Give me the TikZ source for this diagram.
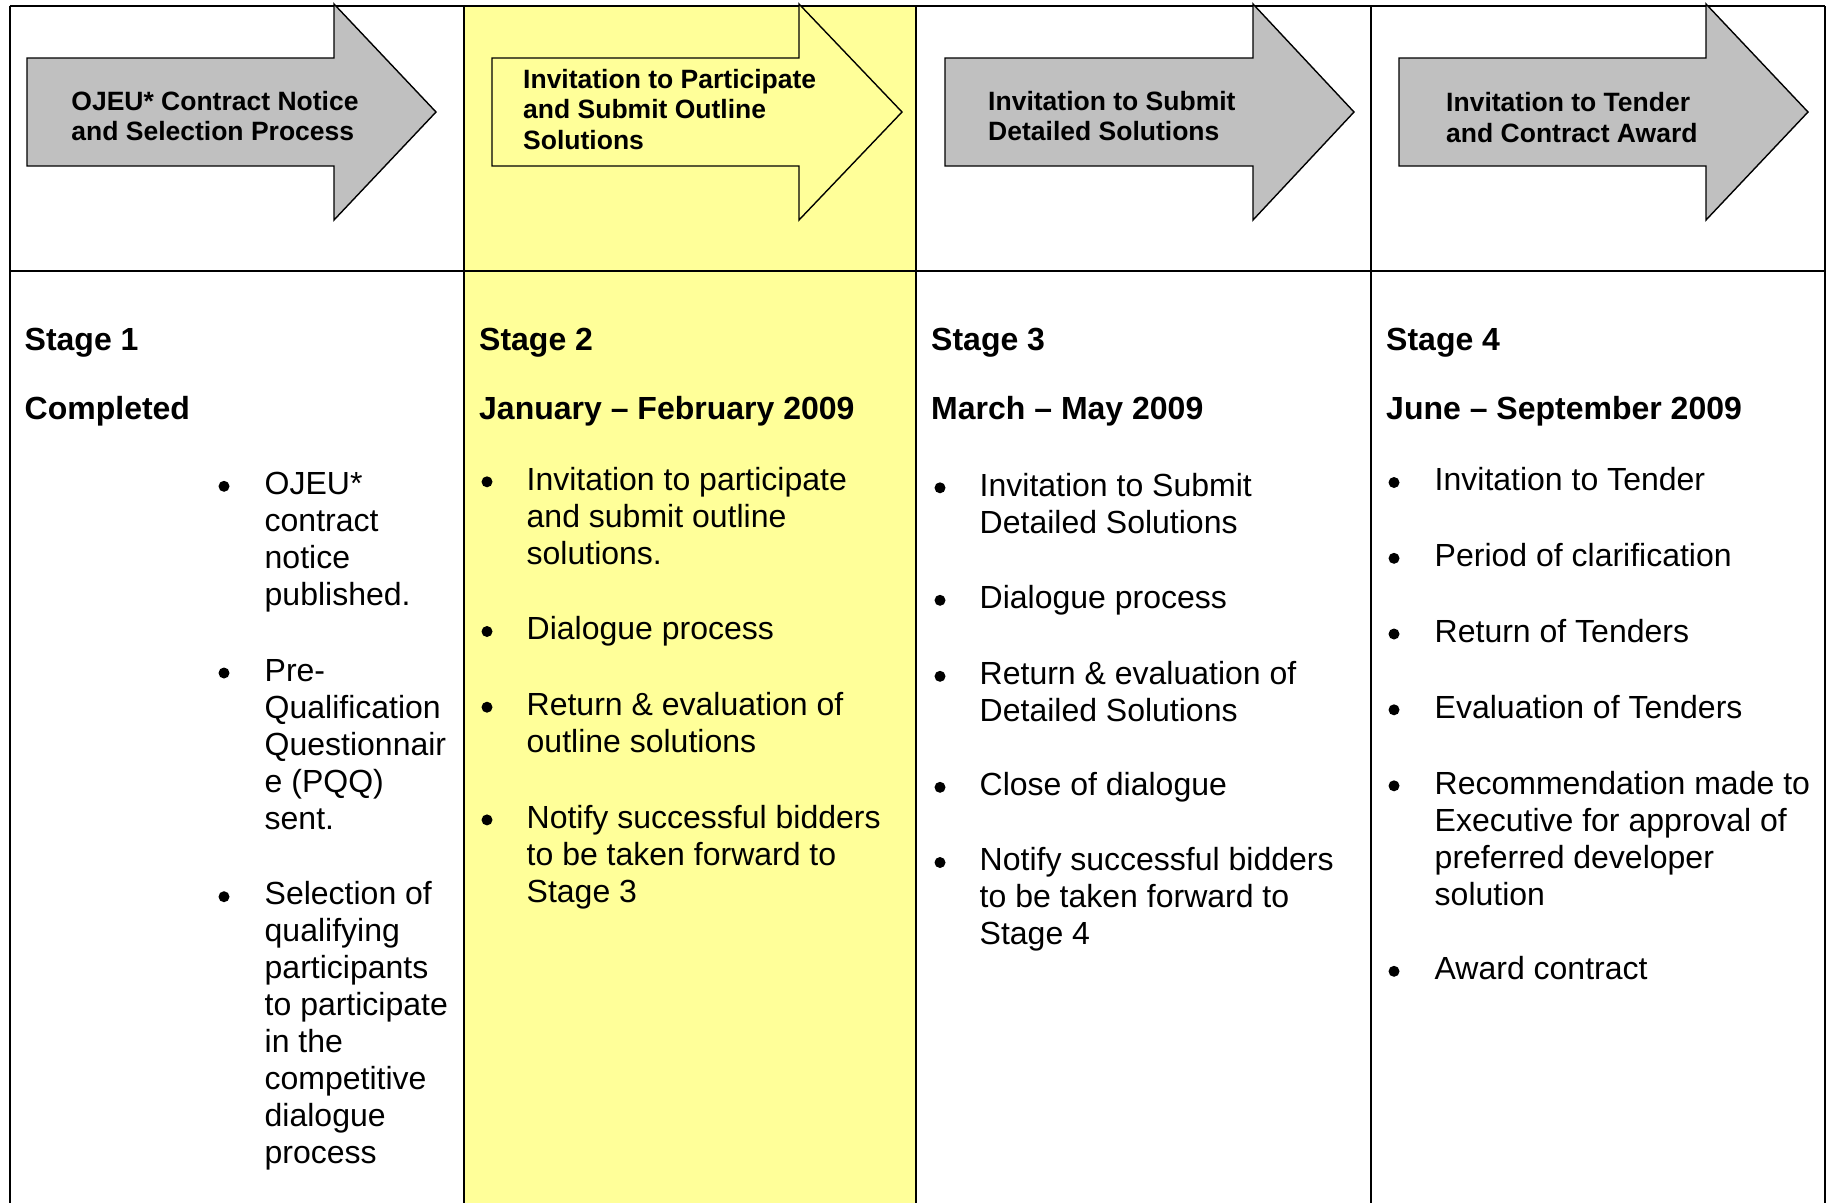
\documentclass[tikz,border=0pt]{standalone}
\usepackage{fontspec}
\setmainfont{Liberation Sans}
\definecolor{arrowgrey}{RGB}{192,192,192}
\definecolor{stageyellow}{RGB}{255,255,153}
\tikzset{
  gridline/.style={line width=2pt, draw=black},
  arrowshape/.style={draw=black, line width=1.4pt, line join=miter},
  arrowtxt/.style={inner sep=0pt, anchor=base west, font=\fontsize{26.5}{30.5}\selectfont\bfseries},
  headtxt/.style={inner sep=0pt, anchor=base west, font=\fontsize{32}{37}\selectfont\bfseries},
  bodytxt/.style={inner sep=0pt, anchor=base west, font=\fontsize{32}{37}\selectfont},
  bulletdot/.style={circle, fill=black, inner sep=0pt, minimum size=11pt},
}
\newcommand\stagearrow[4]{%
  \draw[arrowshape,fill=#4] (#1,58) -- (#2,58) -- (#2,4) -- (#3,112) -- (#2,220) -- (#2,166) -- (#1,166) -- cycle;}
\newcommand\bl[4]{\node[bodytxt] (#1) at (#2+2.5,#3) {#4};}
\newcommand\bdot[3]{\node[bulletdot] (#1) at (#2+1,#3-8.2) {};}
\begin{document}
\begin{tikzpicture}[x=1pt,y=-1pt]
\useasboundingbox (0,0) rectangle (1833,1203);
% yellow column
\fill[stageyellow] (464,6) rectangle (916,1203);
% grid
\draw[gridline] (9.5,6) -- (1825,6);
\draw[gridline] (9.5,271) -- (1825,271);
\foreach \xx in {9.5,464,916,1371,1825} {\draw[gridline] (\xx,6) -- (\xx,1203);}
% arrows
\stagearrow{27}{334}{436}{arrowgrey}
\stagearrow{492}{799}{902}{stageyellow}
\stagearrow{945}{1253}{1354}{arrowgrey}
\stagearrow{1399}{1706}{1808}{arrowgrey}
% arrow texts
\node[arrowtxt] (a1l1) at (71.2,110) {OJEU* Contract Notice};
\node[arrowtxt] (a1l2) at (71.2,140.5) {and Selection Process};
\node[arrowtxt] (a2l1) at (523,88.3) {Invitation to Participate};
\node[arrowtxt] (a2l2) at (523,118.6) {and Submit Outline};
\node[arrowtxt] (a2l3) at (523,149) {Solutions};
\node[arrowtxt] (a3l1) at (988,110) {Invitation to Submit};
\node[arrowtxt] (a3l2) at (988,140.5) {Detailed Solutions};
\node[arrowtxt] (a4l1) at (1446,111.7) {Invitation to Tender};
\node[arrowtxt] (a4l2) at (1446,142.5) {and Contract Award};
% headings
\node[headtxt] (h1a) at (24.5,350.7) {Stage 1};
\node[headtxt] (h1b) at (24.5,419) {Completed};
\node[headtxt] (h2a) at (479,350.7) {Stage 2};
\node[headtxt] (h2b) at (479,419) {January \textendash{} February 2009};
\node[headtxt] (h3a) at (931,350.7) {Stage 3};
\node[headtxt] (h3b) at (931,419) {March \textendash{} May 2009};
\node[headtxt] (h4a) at (1386,350.7) {Stage 4};
\node[headtxt] (h4b) at (1386,419) {June \textendash{} September 2009};
% column 1
\bdot{d11}{223}{494.5}
\bl{c11a}{262}{494.5}{OJEU*}
\bl{c11b}{262}{531.5}{contract}
\bl{c11c}{262}{568.5}{notice}
\bl{c11d}{262}{605.5}{published.}
\bdot{d12}{223}{681.2}
\bl{c12a}{262}{681.2}{Pre-}
\bl{c12b}{262}{718.2}{Qualification}
\bl{c12c}{262}{755.2}{Questionnair}
\bl{c12d}{262}{792.2}{e (PQQ)}
\bl{c12e}{262}{829.2}{sent.}
\bdot{d13}{223}{904.9}
\bl{c13a}{262}{904.9}{Selection of}
\bl{c13b}{262}{941.9}{qualifying}
\bl{c13c}{262}{978.9}{participants}
\bl{c13d}{262}{1015.9}{to participate}
\bl{c13e}{262}{1052.9}{in the}
\bl{c13f}{262}{1089.9}{competitive}
\bl{c13g}{262}{1126.9}{dialogue}
\bl{c13h}{262}{1163.9}{process}
% column 2
\bdot{d21}{486}{490}
\bl{c21a}{524}{490}{Invitation to participate}
\bl{c21b}{524}{527}{and submit outline}
\bl{c21c}{524}{564}{solutions.}
\bdot{d22}{486}{639.7}
\bl{c22a}{524}{639.7}{Dialogue process}
\bdot{d23}{486}{715.4}
\bl{c23a}{524}{715.4}{Return \& evaluation of}
\bl{c23b}{524}{752.4}{outline solutions}
\bdot{d24}{486}{828.1}
\bl{c24a}{524}{828.1}{Notify successful bidders}
\bl{c24b}{524}{865.1}{to be taken forward to}
\bl{c24c}{524}{902.1}{Stage 3}
% column 3
\bdot{d31}{939}{496}
\bl{c31a}{977}{496}{Invitation to Submit}
\bl{c31b}{977}{533}{Detailed Solutions}
\bdot{d32}{939}{608.5}
\bl{c32a}{977}{608.5}{Dialogue process}
\bdot{d33}{939}{684.5}
\bl{c33a}{977}{684.5}{Return \& evaluation of}
\bl{c33b}{977}{721}{Detailed Solutions}
\bdot{d34}{939}{795.5}
\bl{c34a}{977}{795.5}{Close of dialogue}
\bdot{d35}{939}{870.7}
\bl{c35a}{977}{870.7}{Notify successful bidders}
\bl{c35b}{977}{907.7}{to be taken forward to}
\bl{c35c}{977}{944.5}{Stage 4}
% column 4
\bdot{d41}{1393}{490.7}
\bl{c41a}{1432}{490.7}{Invitation to Tender}
\bdot{d42}{1393}{566.5}
\bl{c42a}{1432}{566.5}{Period of clarification}
\bdot{d43}{1393}{642.2}
\bl{c43a}{1432}{642.2}{Return of Tenders}
\bdot{d44}{1393}{718}
\bl{c44a}{1432}{718}{Evaluation of Tenders}
\bdot{d45}{1393}{794}
\bl{c45a}{1432}{794}{Recommendation made to}
\bl{c45b}{1432}{831}{Executive for approval of}
\bl{c45c}{1432}{868}{preferred developer}
\bl{c45d}{1432}{905}{solution}
\bdot{d46}{1393}{979.5}
\bl{c46a}{1432}{979.5}{Award contract}
\end{tikzpicture}
\end{document}
